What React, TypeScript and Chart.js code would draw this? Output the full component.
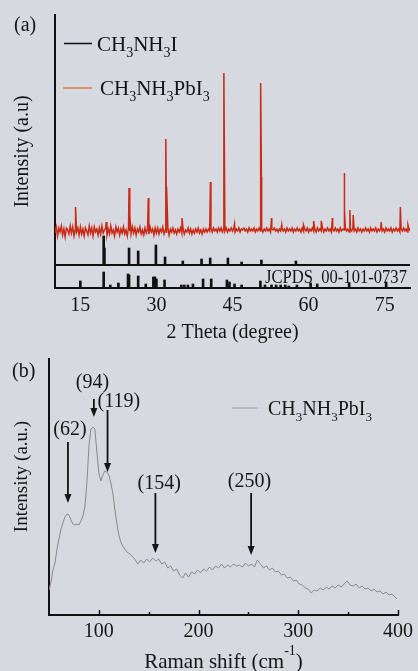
import React, { useEffect, useRef } from "react";
import { Chart, registerables } from "chart.js";

Chart.register(...registerables);

// ---------------- Panel (a): XRD ----------------
const XRD_X_MIN = 10;
const XRD_X_MAX = 80;
const XRD_TICKS = [15, 30, 45, 60, 75];
const XRD_Y_MAX = 273;

const PBI3_OFFSET = 58;
const MAI_OFFSET = 23;
const JCPDS_OFFSET = 0;

// CH3NH3PbI3 scan: background (noise) sampled every 0.25 deg from 10 deg
const PBI3_SCAN_START = 10;
const PBI3_SCAN_STEP = 0.25;
const PBI3_BACKGROUND = [
  -3, 3, -6, 2, -2, 4, -5, 1, -7, 2, 0, -4, 4, -3, 3, -6, 1, -2, 2, -5,
  3, -4, 1, -6, 2, -1, -5, 4, -3, 2, -6, 3, -2, 1, -5, 2, -4, 4, -3, 0,
  2, -5, 1, -4, 4, -3, 0, -6, 3, -2, 2, -5, 1, -3, 3, -4, 0, -6, 2, -1,
  -4, 3, -3, 2, -5, 1, -2, 3, -4, 0, -5, 2, -3, 1, -4, 3, -2, 1, -5, 2,
  -3, 2, -4, 1, -2, 3, -4, 0, -3, 2, -5, 1, -2, 2, -3, 0, -4, 1, -2, 2,
  -3, 1, -4, 0, -2, 2, -3, 1, -4, 0, -3, 1, -2, 2, -3, 0, -4, 1, -2, 1,
  -2, 1, -1, 2, -2, 2, -1, 1, -2, 2, -1, 2, -2, 1, -1, 2, -2, 1, -1, 2,
  -1, 2, -2, 1, -1, 2, -2, 1, 0, 2, -1, 1, -2, 2, -1, 1, -1, 2, -2, 1,
  -1, 2, -1, 1, -2, 1, -1, 2, -1, 1, -2, 1, 0, 2, -1, 1, -2, 1, -1, 2,
  -1, 1, -2, 2, -1, 1, -1, 2, -2, 1, -1, 2, -1, 1, -2, 2, -1, 1, -1, 2,
  -2, 1, -1, 2, -1, 1, -2, 2, -1, 1, -1, 2, -2, 1, -1, 2, -1, 1, -2, 1,
  -1, 2, -1, 1, -2, 2, -1, 1, 0, 2, -1, 1, -2, 1, -1, 2, -1, 1, -2, 2,
  -1, 1, -2, 1, -1, 2, -1, 1, -2, 2, -1, 1, -1, 2, -2, 1, -1, 2, -1, 1,
  -2, 2, -1, 1, -1, 2, -2, 1, -1, 2, -1, 1, -2, 1, -1, 2, -1, 1, -2, 2,
  -1,
];
const PBI3_PEAK_POS = [
  14.05, 20.1, 24.6, 24.75, 28.4, 31.85, 32.0, 35.05, 40.65, 43.3, 45.4, 50.55, 50.7,
  52.7, 54.7, 59.0, 61.0, 62.5, 64.7, 67.0, 67.15, 68.15, 68.8, 74.3, 78.1, 79.6,
];
const PBI3_PEAK_INT = [
  23, 8, 42, 15, 32, 91, 43, 12, 48, 157, 6, 147, 53,
  12, 5, 5, 9, 9, 12, 57, 20, 20, 15, 8, 23, 5,
];

// CH3NH3I reference sticks
const MAI_POS = [19.6, 19.75, 24.6, 26.4, 29.9, 31.7, 35.2, 38.9, 40.6, 44.1, 46.8, 50.7, 57.5];
const MAI_INT = [29, 17, 17, 14, 20, 8, 4, 6, 7, 7, 3, 5, 4];

// JCPDS 00-101-0737 sticks
const JCPDS_POS = [
  15.0, 19.6, 20.9, 22.5, 24.4, 24.6, 26.4, 27.9, 29.4, 29.7, 30.0, 31.6, 34.9, 35.5,
  36.2, 37.2, 39.2, 40.8, 43.9, 44.4, 45.4, 46.8, 50.5, 51.4, 52.7, 53.6, 54.5, 55.4,
  56.1, 57.7, 60.4, 61.7, 68.0, 75.3,
];
const JCPDS_INT = [
  7, 16, 3, 5, 14, 13, 12, 4, 11, 11, 9, 8, 3, 3,
  3, 4, 9, 9, 8, 6, 4, 3, 7, 3, 3, 3, 3, 3,
  2, 3, 5, 4, 5, 6,
];
const JCPDS_LABEL = "JCPDS  00-101-0737";

// ---------------- Panel (b): Raman ----------------
const RAMAN_X_MIN = 50;
const RAMAN_X_MAX = 400;
const RAMAN_TICKS = [100, 200, 300, 400];
const RAMAN_MINOR_TICKS = [150, 250, 350];
const RAMAN_Y_MAX = 256;

const RAMAN_SHIFT = [
  50, 52, 54, 56, 58, 60, 62, 64, 66, 68, 70, 72, 74, 76, 78, 80, 82, 84, 86, 88,
  90, 92, 94, 96, 98, 100, 102, 104, 106, 108, 110, 112, 114, 116, 118, 120, 122, 124, 126, 128,
  130, 133, 136, 139, 142, 145, 148, 151, 154, 157, 160, 163, 166, 169, 172, 175, 178, 181, 184, 187,
  190, 193, 196, 199, 202, 205, 208, 211, 214, 217, 220, 223, 226, 229, 232, 235, 238, 241, 244, 247,
  250, 253, 256, 259, 262, 265, 268, 271, 274, 277, 280, 283, 286, 289, 292, 295, 298, 301, 304, 307,
  310, 313, 316, 319, 322, 325, 328, 331, 334, 337, 340, 343, 346, 349, 352, 355, 358, 361, 364, 367,
  370, 373, 376, 379, 382, 385, 388, 391, 394, 397, 399,
];
const RAMAN_INTENSITY = [
  25, 33, 45, 52, 66, 76, 86, 92, 98, 101, 100, 95, 91, 90, 91, 90, 94, 99, 108, 132,
  168, 186, 188, 186, 163, 142, 134, 140, 144, 143, 140, 132, 122, 106, 92, 80, 73, 69, 66, 63,
  62, 59, 56, 51, 55, 52, 56, 53, 57, 54, 56, 51, 53, 47, 49, 44, 46, 40, 37, 42,
  38, 43, 41, 45, 42, 46, 44, 48, 45, 49, 47, 51, 47, 50, 48, 51, 49, 50, 48, 52,
  49, 51, 48, 55, 51, 47, 49, 45, 47, 43, 44, 40, 41, 37, 38, 34, 35, 31, 30, 27,
  26, 22, 25, 24, 27, 25, 28, 26, 29, 27, 30, 28, 31, 34, 30, 29, 31, 27, 29, 26,
  27, 24, 26, 23, 24, 21, 23, 20, 21, 18, 16,
];

const RAMAN_PEAK_LABELS = ["(62)", "(94)", "(119)", "(154)", "(250)"];
const RAMAN_LABEL_X = [71, 93.5, 120, 160.5, 251];
const RAMAN_LABEL_Y = [185, 232, 213, 131, 133];
const RAMAN_ARROW_X = [69, 95, 108.7, 156.7, 252.7];
const RAMAN_ARROW_FROM = [173, 216, 205, 122, 122];
const RAMAN_ARROW_TO = [112, 198, 143, 62, 60];

// ---------------- styles ----------------
const FONT = "'Liberation Serif', 'Times New Roman', serif";
const BG = "#d7d9e0";
const INK = "#151515";
const AXIS = "#111111";
const RED = "#c92a14";
const ORANGE = "#e07b45";
const GRAY = "#8a8a8a";

type Part = { t: string; sub?: boolean; sup?: boolean };

const MAI_TEXT: Part[] = [{ t: "CH" }, { t: "3", sub: true }, { t: "NH" }, { t: "3", sub: true }, { t: "I" }];
const PBI3_TEXT: Part[] = [
  { t: "CH" }, { t: "3", sub: true }, { t: "NH" }, { t: "3", sub: true }, { t: "PbI" }, { t: "3", sub: true },
];
const RAMAN_TITLE: Part[] = [{ t: "Raman shift (cm" }, { t: "-1", sup: true }, { t: ")" }];

function drawRich(
  ctx: CanvasRenderingContext2D,
  parts: Part[],
  x: number,
  y: number,
  size: number,
  align: "left" | "center" = "left"
) {
  const small = Math.round(size * 0.66);
  ctx.save();
  ctx.fillStyle = INK;
  ctx.textBaseline = "alphabetic";
  ctx.textAlign = "left";
  const widths = parts.map((p) => {
    ctx.font = `${p.sub || p.sup ? small : size}px ${FONT}`;
    return ctx.measureText(p.t).width;
  });
  const total = widths.reduce((a, b) => a + b, 0);
  let cx = align === "center" ? x - total / 2 : x;
  parts.forEach((p, i) => {
    ctx.font = `${p.sub || p.sup ? small : size}px ${FONT}`;
    const dy = p.sub ? size * 0.29 : p.sup ? -size * 0.6 : 0;
    ctx.fillText(p.t, cx, y + dy);
    cx += widths[i];
  });
  ctx.restore();
}

function hLine(ctx: CanvasRenderingContext2D, x1: number, x2: number, y: number, color: string, w: number) {
  ctx.save();
  ctx.strokeStyle = color;
  ctx.lineWidth = w;
  ctx.beginPath();
  ctx.moveTo(x1, y);
  ctx.lineTo(x2, y);
  ctx.stroke();
  ctx.restore();
}

const xrdDecor = {
  id: "xrdDecor",
  afterDraw(chart: any) {
    const ctx: CanvasRenderingContext2D = chart.ctx;
    const xs = chart.scales.x;
    const ys = chart.scales.y;
    ctx.save();
    ctx.fillStyle = INK;
    ctx.font = `20px ${FONT}`;
    ctx.textBaseline = "alphabetic";
    ctx.fillText("(a)", 14, 31);
    ctx.restore();

    hLine(ctx, 64, 92, 43.5, AXIS, 1.5);
    drawRich(ctx, MAI_TEXT, 97, 51, 21);
    hLine(ctx, 63, 92, 88, ORANGE, 1.5);
    drawRich(ctx, PBI3_TEXT, 100, 95, 21);

    ctx.save();
    ctx.fillStyle = INK;
    ctx.font = `18px ${FONT}`;
    ctx.textAlign = "right";
    ctx.textBaseline = "alphabetic";
    ctx.fillText(JCPDS_LABEL, xs.getPixelForValue(79.4), ys.getPixelForValue(JCPDS_OFFSET) - 5, 142);
    ctx.restore();
  },
};

const ramanDecor = {
  id: "ramanDecor",
  afterDraw(chart: any) {
    const ctx: CanvasRenderingContext2D = chart.ctx;
    const xs = chart.scales.x;
    const ys = chart.scales.y;
    const area = chart.chartArea;

    ctx.save();
    ctx.fillStyle = INK;
    ctx.font = `20px ${FONT}`;
    ctx.textBaseline = "alphabetic";
    ctx.fillText("(b)", 12, 32);
    ctx.restore();

    // y title
    ctx.save();
    ctx.fillStyle = INK;
    ctx.font = `19px ${FONT}`;
    ctx.textAlign = "center";
    ctx.textBaseline = "middle";
    ctx.translate(22, 131.5);
    ctx.rotate(-Math.PI / 2);
    ctx.fillText("Intensity (a.u.)", 0, 0);
    ctx.restore();

    // x title
    drawRich(ctx, RAMAN_TITLE, (area.left + area.right) / 2, 323, 21, "center");

    // legend
    hLine(ctx, 232, 258, 63, "#9a9a9a", 1);
    drawRich(ctx, PBI3_TEXT, 268, 70, 20);

    // inward ticks
    ctx.save();
    ctx.strokeStyle = AXIS;
    ctx.lineWidth = 1.5;
    const drawTick = (v: number, len: number) => {
      const px = Math.round(xs.getPixelForValue(v)) + 0.5;
      ctx.beginPath();
      ctx.moveTo(px, area.bottom);
      ctx.lineTo(px, area.bottom - len);
      ctx.stroke();
    };
    RAMAN_TICKS.forEach((v) => drawTick(v, 5));
    RAMAN_MINOR_TICKS.forEach((v) => drawTick(v, 3));
    ctx.restore();

    // peak annotations
    ctx.save();
    ctx.fillStyle = INK;
    ctx.strokeStyle = AXIS;
    ctx.lineWidth = 1.8;
    ctx.font = `20px ${FONT}`;
    ctx.textAlign = "center";
    ctx.textBaseline = "middle";
    RAMAN_PEAK_LABELS.forEach((label, i) => {
      ctx.fillText(label, xs.getPixelForValue(RAMAN_LABEL_X[i]), ys.getPixelForValue(RAMAN_LABEL_Y[i]));
      const x = xs.getPixelForValue(RAMAN_ARROW_X[i]);
      const y1 = ys.getPixelForValue(RAMAN_ARROW_FROM[i]);
      const y2 = ys.getPixelForValue(RAMAN_ARROW_TO[i]);
      const head = 9;
      ctx.beginPath();
      ctx.moveTo(x, y1);
      ctx.lineTo(x, y2 - head + 1);
      ctx.stroke();
      ctx.beginPath();
      ctx.moveTo(x - 3.5, y2 - head);
      ctx.lineTo(x + 3.5, y2 - head);
      ctx.lineTo(x, y2);
      ctx.closePath();
      ctx.fill();
    });
    ctx.restore();
  },
};

export default function App() {
  const refA = useRef<HTMLCanvasElement>(null);
  const refB = useRef<HTMLCanvasElement>(null);

  useEffect(() => {
    const pbi3Points: { x: number; y: number }[] = [];
    PBI3_BACKGROUND.forEach((v, i) =>
      pbi3Points.push({ x: PBI3_SCAN_START + i * PBI3_SCAN_STEP, y: PBI3_OFFSET + v })
    );
    PBI3_PEAK_POS.forEach((p, i) => pbi3Points.push({ x: p, y: PBI3_OFFSET + PBI3_PEAK_INT[i] }));
    pbi3Points.sort((a, b) => a.x - b.x);

    const tickFont = { family: FONT, size: 20 };

    const chartA = new Chart(refA.current as HTMLCanvasElement, {
      type: "line",
      data: {
        datasets: [
          {
            type: "line",
            label: "CH3NH3PbI3",
            data: pbi3Points,
            borderColor: RED,
            borderWidth: 1.5,
            pointRadius: 0,
            tension: 0,
          },
          {
            type: "bar",
            label: "CH3NH3I",
            data: MAI_POS.map((p, i) => ({ x: p, y: [MAI_OFFSET, MAI_OFFSET + MAI_INT[i]] })),
            backgroundColor: AXIS,
            borderWidth: 0,
            barThickness: 2,
            grouped: false,
          },
          {
            type: "line",
            label: "CH3NH3I baseline",
            data: [
              { x: XRD_X_MIN, y: MAI_OFFSET },
              { x: XRD_X_MAX, y: MAI_OFFSET },
            ],
            borderColor: AXIS,
            borderWidth: 2,
            pointRadius: 0,
          },
          {
            type: "bar",
            label: "JCPDS 00-101-0737",
            data: JCPDS_POS.map((p, i) => ({ x: p, y: [JCPDS_OFFSET, JCPDS_OFFSET + JCPDS_INT[i]] })),
            backgroundColor: AXIS,
            borderWidth: 0,
            barThickness: 2,
            grouped: false,
          },
        ] as any,
      },
      options: {
        animation: false,
        responsive: false,
        devicePixelRatio: 1,
        layout: { padding: { top: 15, right: 8, left: 0, bottom: 0 } },
        plugins: { legend: { display: false }, tooltip: { enabled: false } },
        scales: {
          x: {
            type: "linear",
            min: XRD_X_MIN,
            max: XRD_X_MAX,
            offset: false,
            afterBuildTicks: (s: any) => {
              s.ticks = XRD_TICKS.map((v) => ({ value: v }));
            },
            afterFit: (s: any) => {
              s.height = 57;
            },
            ticks: { font: tickFont, color: INK, padding: 6, maxRotation: 0, autoSkip: false },
            grid: { display: false, drawTicks: false },
            border: { display: true, color: AXIS, width: 2 },
            title: {
              display: true,
              text: "2 Theta (degree)",
              font: { family: FONT, size: 20 },
              color: INK,
              padding: { top: 0, bottom: 0 },
            },
          },
          y: {
            type: "linear",
            min: 0,
            max: XRD_Y_MAX,
            afterFit: (s: any) => {
              s.width = 55;
            },
            ticks: { display: false },
            grid: { display: false, drawTicks: false },
            border: { display: true, color: AXIS, width: 2 },
            title: {
              display: true,
              text: "Intensity (a.u)",
              font: { family: FONT, size: 20 },
              color: INK,
              padding: { top: 11, bottom: 0 },
            },
          },
        },
      } as any,
      plugins: [xrdDecor],
    });

    const chartB = new Chart(refB.current as HTMLCanvasElement, {
      type: "line",
      data: {
        datasets: [
          {
            label: "CH3NH3PbI3",
            data: RAMAN_SHIFT.map((x, i) => ({ x, y: RAMAN_INTENSITY[i] })),
            borderColor: GRAY,
            borderWidth: 1,
            pointRadius: 0,
            tension: 0,
          },
        ],
      },
      options: {
        animation: false,
        responsive: false,
        devicePixelRatio: 1,
        layout: { padding: { top: 14, right: 18, left: 0, bottom: 0 } },
        plugins: { legend: { display: false }, tooltip: { enabled: false } },
        scales: {
          x: {
            type: "linear",
            min: RAMAN_X_MIN,
            max: RAMAN_X_MAX,
            offset: false,
            afterBuildTicks: (s: any) => {
              s.ticks = RAMAN_TICKS.map((v) => ({ value: v }));
            },
            afterFit: (s: any) => {
              s.height = 56;
            },
            ticks: { font: tickFont, color: INK, padding: 5, maxRotation: 0, autoSkip: false },
            grid: { display: false, drawTicks: false },
            border: { display: true, color: AXIS, width: 2 },
          },
          y: {
            type: "linear",
            min: 0,
            max: RAMAN_Y_MAX,
            afterFit: (s: any) => {
              s.width = 49;
            },
            ticks: { display: false },
            grid: { display: false, drawTicks: false },
            border: { display: true, color: AXIS, width: 2 },
          },
        },
      } as any,
      plugins: [ramanDecor],
    });

    return () => {
      chartA.destroy();
      chartB.destroy();
    };
  }, []);

  return (
    <div
      style={{
        position: "fixed",
        left: 0,
        top: 0,
        width: 418,
        height: 671,
        background: BG,
        overflow: "hidden",
      }}
    >
      <canvas
        ref={refA}
        width={418}
        height={345}
        style={{ position: "absolute", left: 0, top: 0, width: 418, height: 345 }}
      />
      <canvas
        ref={refB}
        width={418}
        height={326}
        style={{ position: "absolute", left: 0, top: 345, width: 418, height: 326 }}
      />
    </div>
  );
}
